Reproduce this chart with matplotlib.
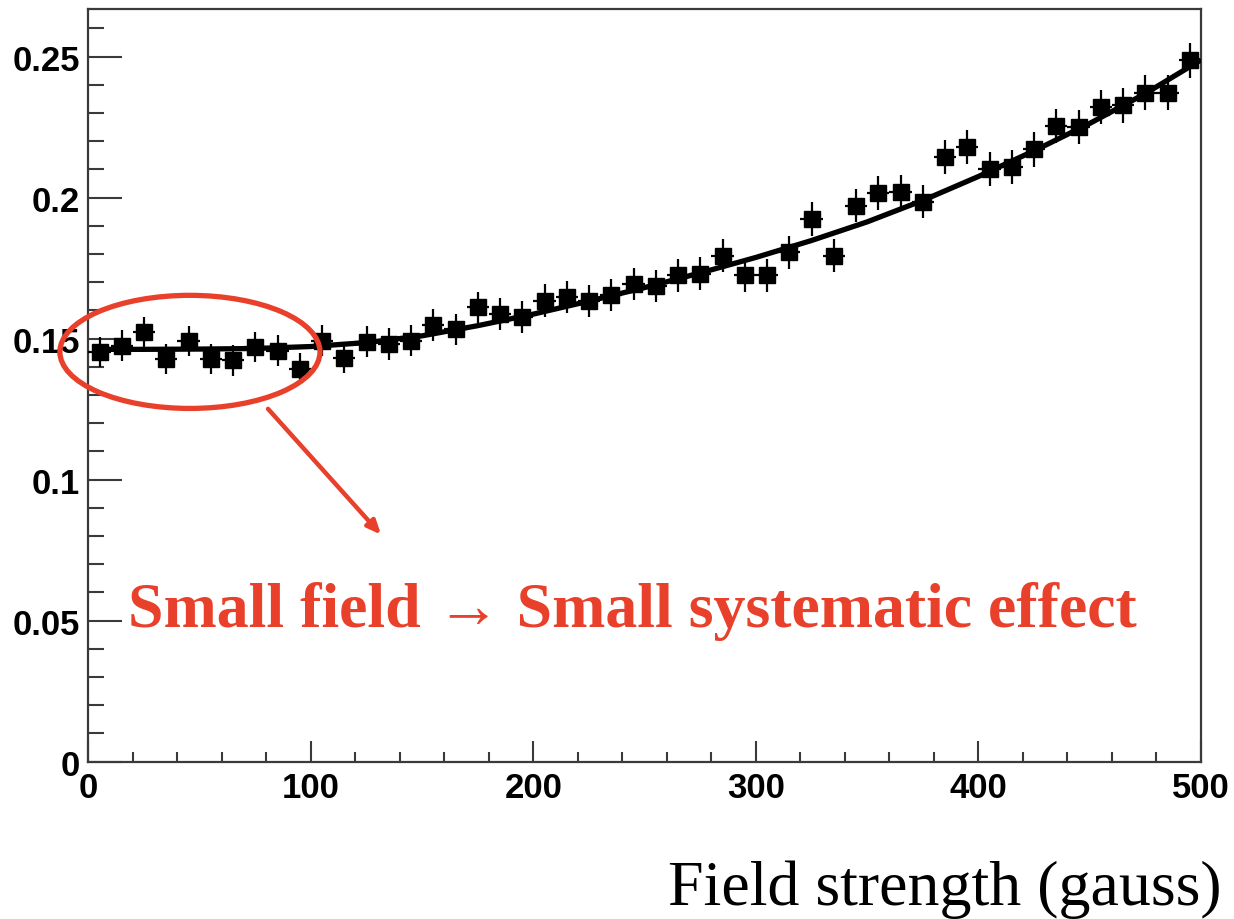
import matplotlib
matplotlib.use("Agg")
import matplotlib.pyplot as plt
from matplotlib.patches import Ellipse
from matplotlib.ticker import FixedLocator, FixedFormatter, MultipleLocator

# ---- data ----
field = [5, 15, 25, 35, 45, 55, 65, 75, 85, 95,
         105, 115, 125, 135, 145, 155, 165, 175, 185, 195,
         205, 215, 225, 235, 245, 255, 265, 275, 285, 295,
         305, 315, 325, 335, 345, 355, 365, 375, 385, 395,
         405, 415, 425, 435, 445, 455, 465, 475, 485, 495]
value = [0.1452, 0.1475, 0.1523, 0.1428, 0.1492, 0.1428, 0.1423, 0.1470, 0.1457, 0.1393,
         0.1492, 0.1433, 0.1489, 0.1481, 0.1493, 0.1548, 0.1533, 0.1611, 0.1588, 0.1576,
         0.1635, 0.1647, 0.1632, 0.1655, 0.1694, 0.1687, 0.1724, 0.1730, 0.1794, 0.1724,
         0.1724, 0.1806, 0.1924, 0.1794, 0.1972, 0.2017, 0.2020, 0.1986, 0.2143, 0.2179,
         0.2102, 0.2108, 0.2171, 0.2253, 0.2250, 0.2321, 0.2327, 0.2371, 0.2371, 0.2487]
value_err = [0.0054, 0.0054, 0.0054, 0.0054, 0.0054, 0.0054, 0.0054, 0.0054, 0.0055, 0.0055,
             0.0055, 0.0055, 0.0055, 0.0055, 0.0055, 0.0056, 0.0056, 0.0056, 0.0056, 0.0056,
             0.0057, 0.0057, 0.0057, 0.0057, 0.0057, 0.0058, 0.0058, 0.0058, 0.0058, 0.0058,
             0.0059, 0.0059, 0.0059, 0.0059, 0.0059, 0.0060, 0.0060, 0.0060, 0.0060, 0.0060,
             0.0060, 0.0060, 0.0061, 0.0061, 0.0061, 0.0061, 0.0061, 0.0062, 0.0062, 0.0062]
bin_half_width = 5

fit_x = [2, 25, 50, 75, 100, 125, 150, 175, 200, 225, 250,
         275, 300, 325, 350, 375, 400, 425, 450, 475, 500]
fit_y = [0.1462, 0.1462, 0.1463, 0.1465, 0.1472, 0.1486, 0.1510, 0.1546, 0.1587, 0.1633, 0.1681,
         0.1733, 0.1788, 0.1848, 0.1914, 0.1990, 0.2075, 0.2166, 0.2263, 0.2369, 0.2488]

y_ticks = [0, 0.05, 0.1, 0.15, 0.2, 0.25]
y_tick_labels = ["0", "0.05", "0.1", "0.15", "0.2", "0.25"]
x_ticks = [0, 100, 200, 300, 400, 500]
x_tick_labels = ["0", "100", "200", "300", "400", "500"]

annotation = "Small field \u2192 Small systematic effect"
x_label = "Field strength (gauss)"

RED = "#E8402A"
FRAME = "#3a3a3a"

fig = plt.figure(figsize=(12.34, 9.2), dpi=100)
ax = fig.add_axes([0.0717, 0.171, 0.9015, 0.8182])

ax.errorbar(field, value, yerr=value_err, xerr=bin_half_width, fmt="s",
            color="black", ms=11, elinewidth=1.6, capsize=0, zorder=3)
ax.plot(fit_x, fit_y, color="black", lw=3.8, zorder=4, solid_capstyle="butt")

ax.set_xlim(0, 500)
ax.set_ylim(0, 0.2669)

ax.yaxis.set_major_locator(FixedLocator(y_ticks))
ax.yaxis.set_major_formatter(FixedFormatter(y_tick_labels))
ax.yaxis.set_minor_locator(MultipleLocator(0.01))
ax.xaxis.set_major_locator(FixedLocator(x_ticks))
ax.xaxis.set_major_formatter(FixedFormatter(x_tick_labels))
ax.xaxis.set_minor_locator(MultipleLocator(20))

ax.tick_params(axis="y", which="major", direction="in", length=24.5, width=1.5,
               color=FRAME, pad=6, labelsize=25, right=False)
ax.tick_params(axis="y", which="minor", direction="in", length=11.5, width=1.5,
               color=FRAME, right=False)
ax.tick_params(axis="x", which="major", direction="in", length=15, width=1.5,
               color=FRAME, pad=7, labelsize=25, top=False)
ax.tick_params(axis="x", which="minor", direction="in", length=7.5, width=1.5,
               color=FRAME, top=False)
for lab in ax.get_xticklabels() + ax.get_yticklabels():
    lab.set_fontfamily(["Liberation Sans", "DejaVu Sans"])
    lab.set_fontweight("bold")

for sp in ax.spines.values():
    sp.set_color(FRAME)
    sp.set_linewidth(1.6)

# annotations
ell = Ellipse((45.6, 0.1453), width=116.9, height=0.0401, fill=False,
              edgecolor=RED, lw=3.8, clip_on=False, zorder=5)
ax.add_patch(ell)
ax.annotate("", xy=(131.5, 0.0805), xytext=(80.7, 0.1251),
            arrowprops=dict(arrowstyle="-|>,head_length=0.8,head_width=0.35",
                            color=RED, lw=3.2, shrinkA=0, shrinkB=0),
            annotation_clip=False, zorder=5)
ax.text(17.8, 0.0481, annotation, color=RED, fontsize=46, fontweight="bold",
        family=["Liberation Serif", "DejaVu Serif"], ha="left", va="baseline", zorder=6)

fig.text(0.990, 0.0163, x_label, fontsize=46, family=["Liberation Serif", "DejaVu Serif"],
         ha="right", va="baseline", color="black")

fig.savefig("out.png", dpi=100, facecolor="white")
